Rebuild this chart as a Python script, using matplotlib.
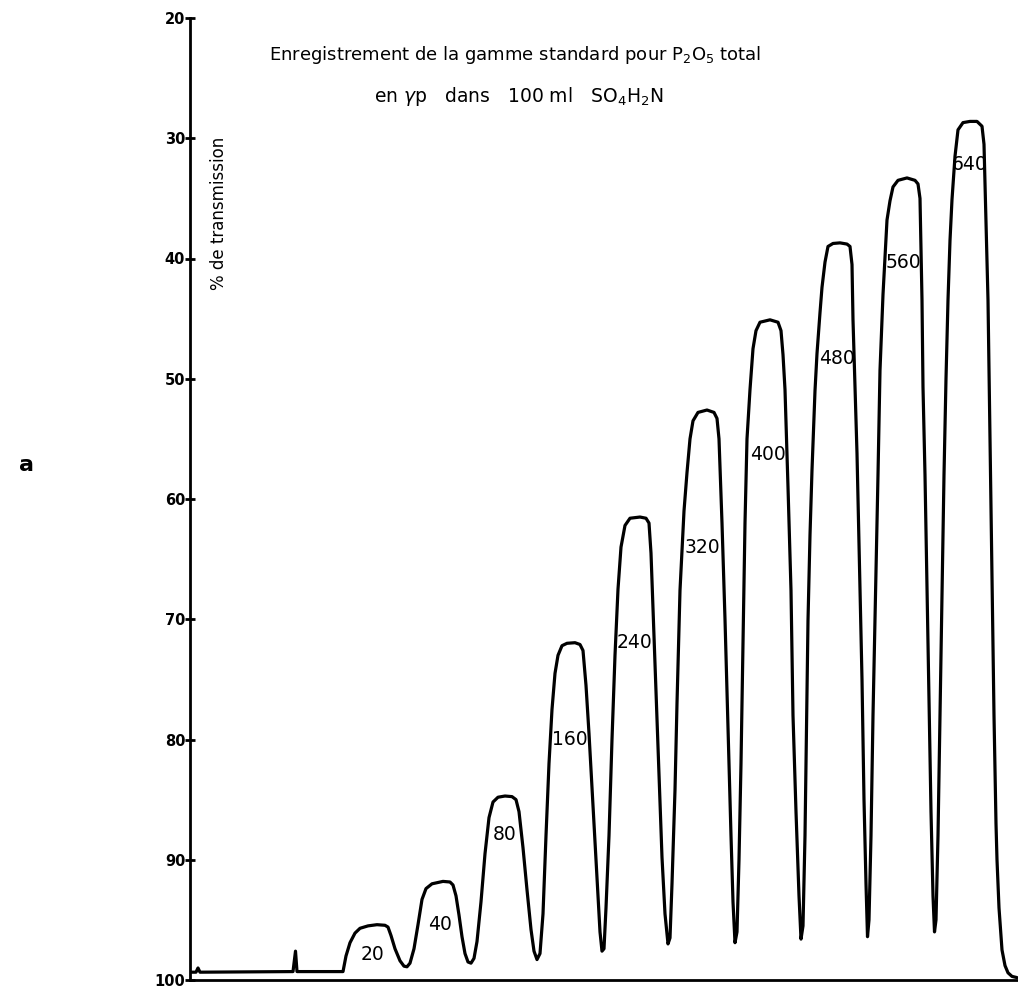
import matplotlib
matplotlib.use("Agg")
import matplotlib.pyplot as plt
from matplotlib import font_manager

# recorder trace (x = chart position, y = % transmission)
trace_x = [190, 196, 198, 200, 293, 295.5, 297, 343,
           346, 350, 355, 360, 368, 377, 385, 388, 391, 395, 400, 404, 407,
           410, 414, 418, 422, 426, 432, 443, 450, 453, 456, 459, 462, 465, 468, 471,
           474, 477, 481, 485, 489, 493, 498, 505, 512, 516, 519, 523, 527, 531, 534, 537,
           540, 543, 546, 549, 552, 555, 558, 562, 567, 575, 580, 583, 586, 589, 592, 595, 598, 600, 602,
           604, 606, 609, 612, 615, 618, 621, 625, 630, 640, 646, 649, 651, 653, 656, 659, 662, 665, 668,
           670, 672, 675, 677, 680, 684, 687, 690, 693, 698, 707, 714, 717, 719, 722, 725, 728, 731, 733, 735,
           737, 739, 741, 743, 745, 747, 750, 753, 756, 760, 770, 778, 781, 783, 785, 788, 791, 793, 796, 799, 801,
           803, 805, 808, 810, 812, 815, 817, 820, 822, 825, 828, 833, 840, 847, 850, 852, 853, 857, 860, 862, 864, 866, 867.5,
           869, 871, 873, 875, 878, 880, 883, 887, 890, 893, 898, 907, 915, 918, 920, 922, 923, 925, 927, 929, 931, 933, 934.5,
           936, 938, 940, 942, 944, 946, 948, 950, 952, 955, 958, 963, 970, 977, 982, 984, 985, 988, 990, 992, 994, 996, 997,
           999, 1002, 1005, 1008, 1012, 1017]
trace_y = [99.35, 99.35, 99.0, 99.35, 99.3, 97.6, 99.3, 99.3,
           98.0, 96.9, 96.1, 95.7, 95.5, 95.4, 95.45, 95.6, 96.3, 97.4, 98.4, 98.85, 98.9,
           98.6, 97.4, 95.4, 93.3, 92.4, 92.0, 91.8, 91.85, 92.1, 93.0, 94.6, 96.4, 97.8, 98.5, 98.6,
           98.2, 96.8, 93.5, 89.5, 86.5, 85.2, 84.8, 84.7, 84.75, 85.0, 86.0, 89.0, 92.5, 95.8, 97.6, 98.3,
           97.8, 94.5, 88.0, 82.0, 77.5, 74.5, 73.0, 72.2, 72.0, 71.95, 72.1, 72.6, 75.5, 79.5, 84.0, 88.5, 93.0, 96.0, 97.6,
           97.4, 94.0, 88.0, 80.0, 73.0, 67.5, 64.0, 62.2, 61.6, 61.5, 61.6, 62.0, 64.5, 69.0, 76.0, 83.0, 89.8, 94.5, 97.0,
           96.5, 92.0, 84.2, 77.0, 67.6, 61.0, 57.8, 55.0, 53.5, 52.8, 52.6, 52.8, 53.3, 55.0, 62.0, 70.0, 79.0, 88.0, 93.5, 96.9,
           96.0, 90.0, 82.0, 72.0, 62.0, 55.0, 50.9, 47.5, 46.0, 45.3, 45.1, 45.3, 46.0, 48.0, 50.9, 59.0, 67.6, 78.0, 86.0, 93.0, 96.6,
           95.5, 88.0, 70.1, 63.0, 57.6, 51.0, 47.9, 44.5, 42.4, 40.3, 39.0, 38.75, 38.7, 38.8, 39.0, 40.5, 45.1, 56.2, 67.3, 75.0, 85.0, 92.0, 96.4,
           95.0, 88.0, 78.0, 70.1, 58.0, 49.3, 43.0, 36.8, 35.2, 34.05, 33.5, 33.3, 33.5, 33.8, 35.0, 43.45, 50.7, 58.0, 67.3, 77.0, 86.0, 93.0, 96.0,
           95.0, 88.0, 78.0, 68.0, 58.0, 50.0, 43.45, 38.5, 35.1, 31.5, 29.3, 28.7, 28.6, 28.6, 29.0, 30.5, 33.7, 43.45, 55.0, 67.0, 78.0, 87.0, 90.0,
           94.0, 97.5, 98.8, 99.4, 99.7, 99.8]

# peak labels (gamma P per 100 ml) and where they sit
doses = ["20", "40", "80", "160", "240", "320", "400", "480", "560", "640"]
dose_x = [373, 440, 505, 570, 635, 702, 768, 837, 903, 970]
dose_y = [97.9, 95.4, 87.9, 80.0, 71.9, 64.0, 56.3, 48.3, 40.3, 32.2]

yticks = [20, 30, 40, 50, 60, 70, 80, 90, 100]

names = {f.name for f in font_manager.fontManager.ttflist}
narrow = "Liberation Sans Narrow" if "Liberation Sans Narrow" in names else "DejaVu Sans"
plt.rcParams['font.family'] = [narrow, 'DejaVu Sans']

fig = plt.figure(figsize=(10.18, 9.9), dpi=100)
ax = fig.add_axes([190 / 1018, 1 - 980 / 990, 1 - 190 / 1018, (980 - 18) / 990])

ax.plot(trace_x, trace_y, color="black", lw=2.3, solid_capstyle="round", solid_joinstyle="round")

for lab, x, y in zip(doses, dose_x, dose_y):
    ax.text(x, y, lab, ha="center", va="center", fontsize=13.5)

ax.set_xlim(190, 1018)
ax.set_ylim(100, 20)
ax.set_yticks(yticks)
ax.set_yticklabels([str(t) for t in yticks], fontsize=10.5, fontweight="bold")
ax.tick_params(axis="y", direction="inout", length=7, width=2, pad=0)
ax.set_xticks([])
for s in ["top", "right"]:
    ax.spines[s].set_visible(False)
ax.spines["left"].set_linewidth(2)
ax.spines["bottom"].set_linewidth(2)

fig.text(515 / 1018, 1 - 55 / 990, r"Enregistrement de la gamme standard pour P$_2$O$_5$ total",
         ha="center", va="center", fontsize=13)
fig.text(519 / 1018, 1 - 97 / 990, r"en $\gamma$p   dans   100 ml   SO$_4$H$_2$N",
         ha="center", va="center", fontsize=13.5)
fig.text(219 / 1018, 1 - 213 / 990, "% de transmission", rotation=90,
         ha="center", va="center", fontsize=12, family="DejaVu Sans")
fig.text(27 / 1018, 1 - 465 / 990, "a", ha="center", va="center", fontsize=16,
         fontweight="bold", family="DejaVu Sans")

fig.savefig("out.png", dpi=100)
